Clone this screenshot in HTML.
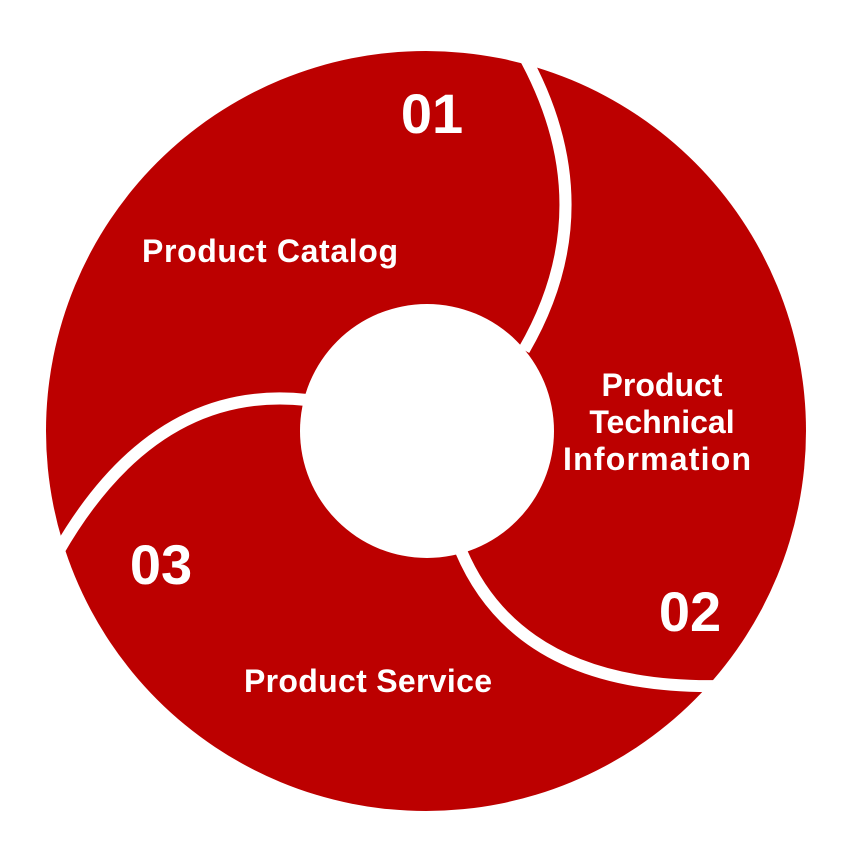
<!DOCTYPE html>
<html><head><meta charset="utf-8"><style>
html,body{margin:0;padding:0;background:#fff;width:850px;height:850px;overflow:hidden}
svg text{font-family:"Liberation Sans",sans-serif;font-weight:bold;fill:#fff}
</style></head><body>
<svg width="850" height="850" viewBox="0 0 850 850" xmlns="http://www.w3.org/2000/svg">
<circle cx="426" cy="431" r="380" fill="#bc0000"/>
<g fill="none" stroke="#fff" stroke-width="12">
<path d="M524,350 Q608,205 522,52"/>
<path d="M307,400 Q155,383 58,552"/>
<path d="M461,551 Q520,690 720,686"/>
</g>
<circle cx="427" cy="431" r="127" fill="#fff"/>
<text x="432" y="133" font-size="56" text-anchor="middle">01</text>
<text x="270" y="262" font-size="32" text-anchor="middle" textLength="256">Product Catalog</text>
<text x="662" y="396" font-size="32" text-anchor="middle">Product</text>
<text x="662" y="433" font-size="32" text-anchor="middle">Technical</text>
<text x="657" y="470" font-size="32" text-anchor="middle" textLength="188">Information</text>
<text x="690" y="631" font-size="56" text-anchor="middle">02</text>
<text x="161" y="584" font-size="56" text-anchor="middle">03</text>
<text x="368" y="692" font-size="32" text-anchor="middle" textLength="248">Product Service</text>
</svg>
</body></html>
